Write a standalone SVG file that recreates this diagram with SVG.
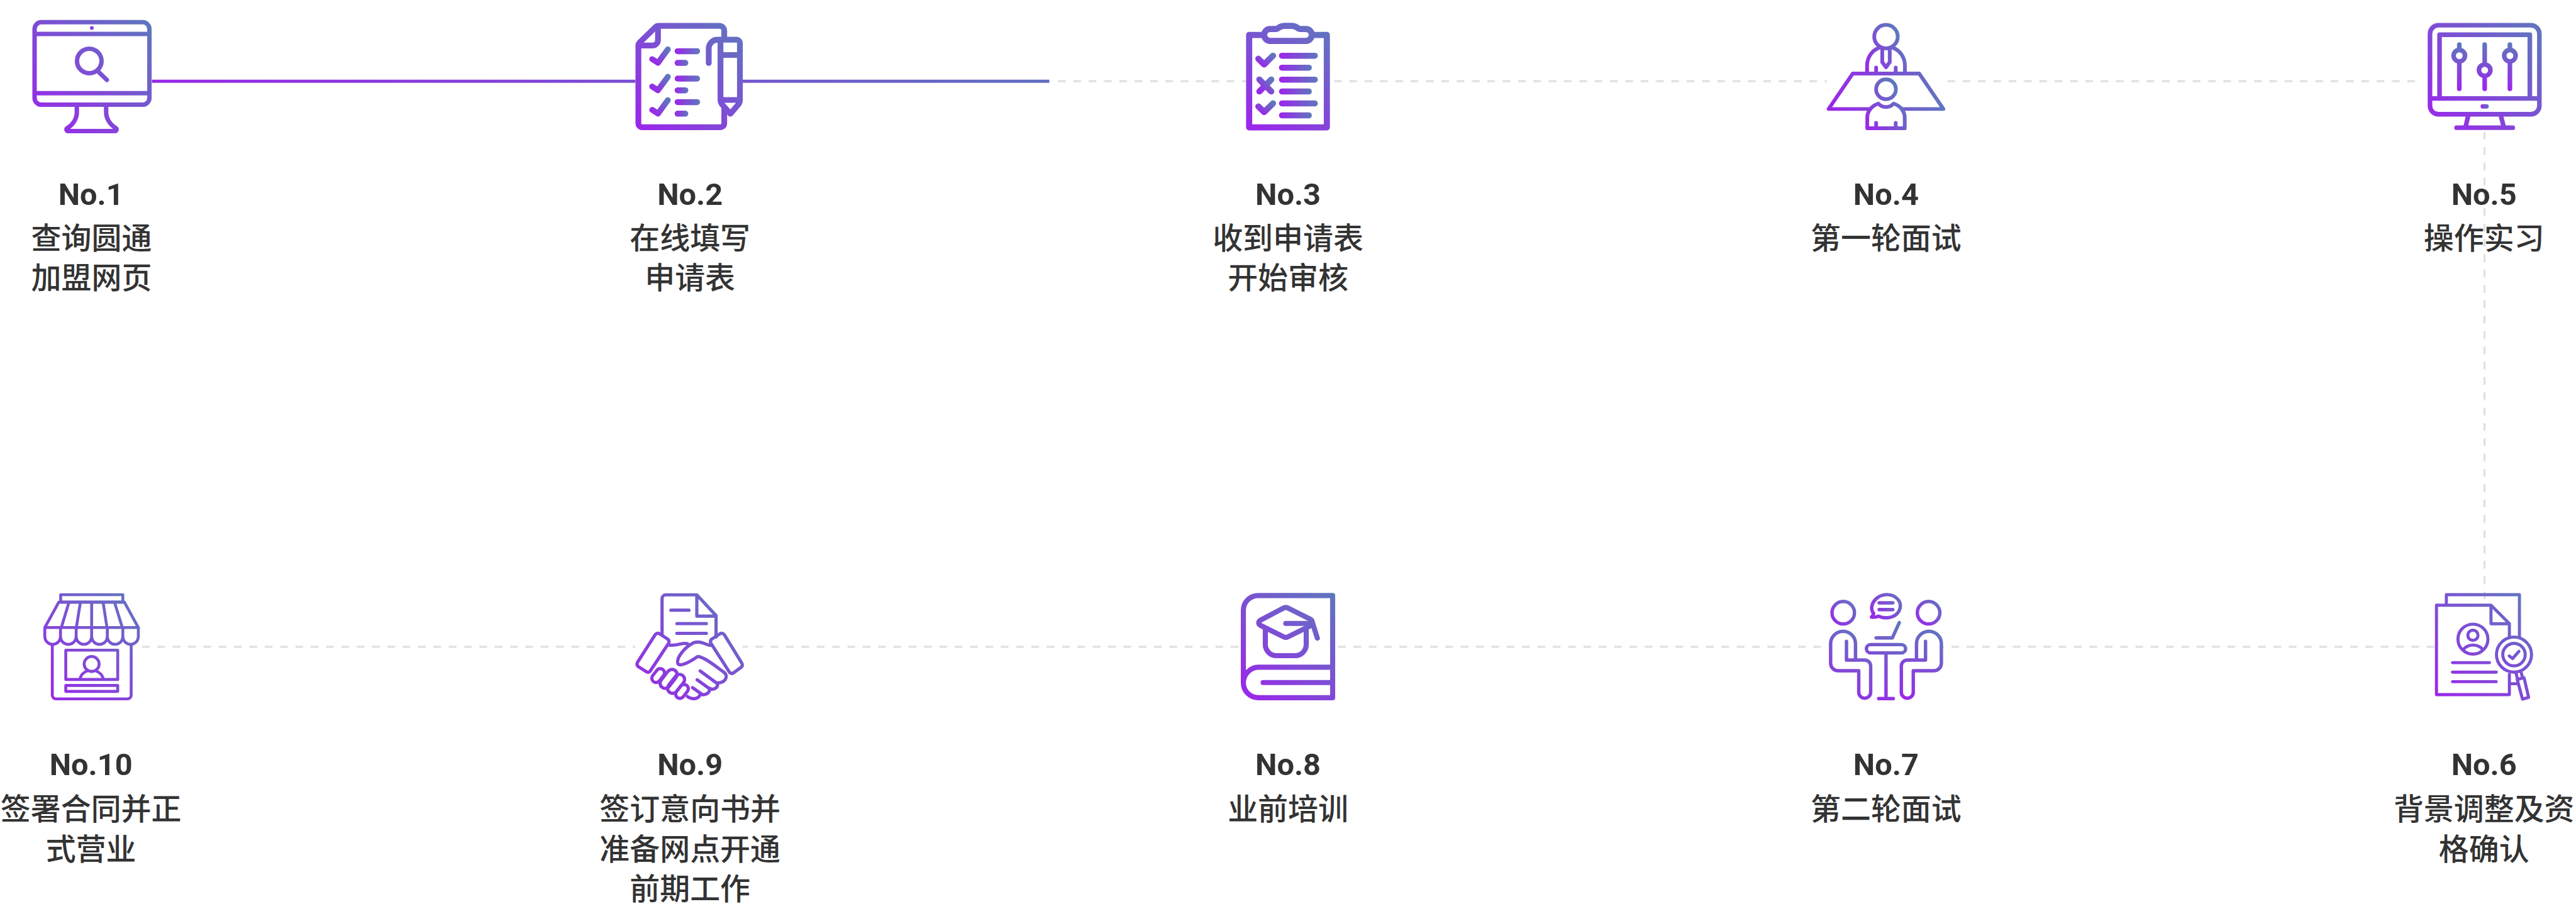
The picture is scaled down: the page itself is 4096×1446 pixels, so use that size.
<svg xmlns="http://www.w3.org/2000/svg" xmlns:xlink="http://www.w3.org/1999/xlink" width="4096" height="1446" viewBox="0 0 4096 1446">
<style>
.bg{fill:#fff}
.ic{fill:none;stroke-linecap:round;stroke-linejoin:round}
.wf{fill:#fff}
.dash{fill:none;stroke:#e0e0e0;stroke-width:4;stroke-dasharray:15 15}
.no{font-family:Roboto,"Liberation Sans",sans-serif;font-weight:700;font-size:60px;fill:#333;text-anchor:middle}
.tx{font-family:"Noto Sans CJK SC",sans-serif;font-weight:500;font-size:59px;fill:#333;text-anchor:middle}
.bar{fill:url(#gh)}
.chk{fill:none;stroke:url(#gd);stroke-linecap:round;stroke-linejoin:round}
</style>
<defs>
<linearGradient id="st"><stop offset="0" stop-color="#9d24ec"/><stop offset="1" stop-color="#5e78bd"/></linearGradient>
<linearGradient id="gh" xlink:href="#st" href="#st" x1="0" y1="0" x2="1" y2="0"/>
<linearGradient id="gd" xlink:href="#st" href="#st" x1="0" y1="1" x2="1" y2="0"/>
<linearGradient id="gline" gradientUnits="userSpaceOnUse" x1="297" y1="0" x2="2053" y2="0"><stop offset="0" stop-color="#9a28e8"/><stop offset="1" stop-color="#5f6fc0"/></linearGradient>
<linearGradient id="g1" xlink:href="#st" href="#st" gradientUnits="userSpaceOnUse" x1="190" y1="782" x2="890" y2="117"/>
<linearGradient id="g2" xlink:href="#st" href="#st" gradientUnits="userSpaceOnUse" x1="190" y1="764" x2="820" y2="135"/>
<linearGradient id="g3" xlink:href="#st" href="#st" gradientUnits="userSpaceOnUse" x1="265" y1="765" x2="755" y2="135"/>
<linearGradient id="g4" xlink:href="#st" href="#st" gradientUnits="userSpaceOnUse" x1="222" y1="650" x2="918" y2="640"/>
<linearGradient id="g4a" xlink:href="#st" href="#st" gradientUnits="userSpaceOnUse" x1="450" y1="430" x2="690" y2="280"/>
<linearGradient id="g4b" xlink:href="#st" href="#st" gradientUnits="userSpaceOnUse" x1="450" y1="764" x2="690" y2="600"/>
<linearGradient id="g5" xlink:href="#st" href="#st" gradientUnits="userSpaceOnUse" x1="300" y1="764" x2="968" y2="135"/>
<linearGradient id="g5s" xlink:href="#st" href="#st" gradientUnits="userSpaceOnUse" x1="0" y1="534" x2="0" y2="248"/>
<linearGradient id="g6" xlink:href="#st" href="#st" gradientUnits="userSpaceOnUse" x1="190" y1="750" x2="770" y2="122"/>
<linearGradient id="g7" xlink:href="#st" href="#st" gradientUnits="userSpaceOnUse" x1="300" y1="752" x2="600" y2="340"/>
<linearGradient id="g7b" xlink:href="#st" href="#st" gradientUnits="userSpaceOnUse" x1="357" y1="278" x2="545" y2="123"/>
<linearGradient id="g7h" xlink:href="#st" href="#st" gradientUnits="userSpaceOnUse" x1="123" y1="315" x2="275" y2="162"/>
<linearGradient id="g7r" xlink:href="#st" href="#st" gradientUnits="userSpaceOnUse" x1="625" y1="315" x2="777" y2="162"/>
<linearGradient id="g7v" xlink:href="#st" href="#st" gradientUnits="userSpaceOnUse" x1="540" y1="752" x2="785" y2="340"/>
<linearGradient id="g7l" xlink:href="#st" href="#st" gradientUnits="userSpaceOnUse" x1="115" y1="752" x2="370" y2="340"/>
<linearGradient id="g8" xlink:href="#st" href="#st" gradientUnits="userSpaceOnUse" x1="143" y1="752" x2="697" y2="122"/>
<linearGradient id="g9" xlink:href="#st" href="#st" gradientUnits="userSpaceOnUse" x1="130" y1="750" x2="765" y2="122"/>
<linearGradient id="g10" xlink:href="#st" href="#st" gradientUnits="userSpaceOnUse" x1="135" y1="752" x2="700" y2="122"/>
</defs>
<g transform="scale(0.8127)">
<g id="connectors">
<path d="M297 159H2053" fill="none" stroke="url(#gline)" stroke-width="6"/>
<path class="dash" d="M2070 159H4725"/>
<path class="dash" d="M4861 258V1173"/>
<path class="dash" d="M4763 1266H262"/>
</g>

<g id="node1">
<rect class="bg" x="60" y="30" width="237" height="240"/>
<g transform="scale(.33333)">
<g class="ic" stroke="url(#g1)" stroke-width="26">
<path d="M243 130H837a40 40 0 0 1 40 40V575a40 40 0 0 1-40 40H243a40 40 0 0 1-40-40V170a40 40 0 0 1 40-40ZM203 199H877M203 547H877"/>
<circle cx="524" cy="358" r="72"/>
<path d="M578 422L627 469"/>
<path d="M451 615V660C451 700 425 735 395 752C386 758 390 770 402 770H672C685 770 688 758 680 752C650 735 623 700 623 660V615"/>
</g>
<circle cx="539" cy="164" r="11" fill="#8a3fd8"/>
</g>
<text class="no" x="178" y="401">No.1</text>
<text class="tx" x="179" y="487">查询圆通</text>
<text class="tx" x="179" y="565">加盟网页</text>
</g>

<g id="node2">
<rect class="bg" x="1243" y="30" width="210" height="240"/>
<g transform="translate(1180 0) scale(.33333)">
<g class="ic" stroke="url(#g2)" stroke-width="34">
<path d="M711 225V180a28 28 0 0 0-28-28H325q-10 0-17 7L214 250q-7 7-7 17V725a22 22 0 0 0 22 22H689a22 22 0 0 0 22-22V630"/>
<path d="M322 155V235a32 32 0 0 1-32 32H215"/>
<path d="M620 370V285a52 52 0 0 1 52-52H783a20 20 0 0 1 20 20V590q0 12-8 22L747 668L697 612q-8-10-8-22V233M689 323H803M689 587H803"/>
</g>
<g stroke-width="34">
<path class="chk" d="M288 347L322 369L380 290"/>
<path class="chk" d="M288 508L322 530L380 451"/>
<path class="chk" d="M288 645L322 667L380 588"/>
</g>
<rect class="bar" x="420" y="283" width="149" height="35" rx="17.500"/>
<rect class="bar" x="420" y="352" width="80" height="35" rx="17.500"/>
<rect class="bar" x="420" y="444" width="149" height="35" rx="17.500"/>
<rect class="bar" x="420" y="513" width="80" height="35" rx="17.500"/>
<rect class="bar" x="420" y="582" width="149" height="35" rx="17.500"/>
<rect class="bar" x="420" y="650" width="80" height="35" rx="17.500"/>
</g>
<text class="no" x="1350" y="401">No.2</text>
<text class="tx" x="1350" y="487">在线填写</text>
<text class="tx" x="1350" y="565">申请表</text>
</g>

<g id="node3">
<rect class="bg" x="2438" y="30" width="172" height="240"/>
<g transform="translate(2350 0) scale(.33333)">
<g class="ic" stroke="url(#g3)" stroke-width="36">
<path d="M365 205H282V748H738V205H655"/>
<path d="M405 240a35 35 0 0 1 0-70H440q8 0 15-7q15-11 35-11H530q20 0 35 11q7 7 15 7H615a35 35 0 0 1 0 70Z"/>
</g>
<g stroke-width="36">
<path class="chk" d="M336 345L370 378L422 327"/>
<path class="chk" d="M342 467L412 537M412 467L342 537"/>
<path class="chk" d="M336 625L370 658L422 607"/>
</g>
<rect class="bar" x="457" y="310" width="228" height="35" rx="17.500"/>
<rect class="bar" x="457" y="380" width="193" height="35" rx="17.500"/>
<rect class="bar" x="457" y="450" width="228" height="35" rx="17.500"/>
<rect class="bar" x="457" y="520" width="193" height="35" rx="17.500"/>
<rect class="bar" x="457" y="590" width="228" height="35" rx="17.500"/>
<rect class="bar" x="457" y="660" width="193" height="35" rx="17.500"/>
</g>
<text class="no" x="2520" y="401">No.3</text>
<text class="tx" x="2520" y="487">收到申请表</text>
<text class="tx" x="2520" y="565">开始审核</text>
</g>

<g id="node4">
<rect class="bg" x="3574" y="30" width="236" height="240"/>
<g transform="translate(3500 0) scale(.33333)">
<g class="ic" stroke-width="22">
<circle cx="570" cy="215" r="69" stroke="url(#g4a)"/>
<path stroke="url(#g4a)" d="M459 430V385C459 335 490 295 530 280M681 430V385C681 335 650 295 610 280M548 285V365L570 395L592 365V285M512 397V430M627 397V430"/>
<path stroke="url(#g4)" d="M475 640H233L375 432H765L907 640H665"/>
<circle cx="570" cy="524" r="58" stroke="url(#g4b)"/>
<path stroke="url(#g4b)" d="M460 753V690C460 650 490 620 525 608C550 635 590 635 615 608C650 620 680 650 680 690V753ZM512 722V753M627 722V753"/>
</g>
</g>
<text class="no" x="3690" y="401">No.4</text>
<text class="tx" x="3690" y="487">第一轮面试</text>
</g>

<g id="node5">
<rect class="bg" x="4725" y="30" width="270" height="228"/>
<g transform="translate(4650 0) scale(.33333)">
<g class="ic" stroke="url(#g5)" stroke-width="27">
<path d="M363 148H905a50 50 0 0 1 50 50V621a50 50 0 0 1-50 50H363a50 50 0 0 1-50-50V198a50 50 0 0 1 50-50ZM313 578H955M369 578V204H899V578M537 680L521 750M729 680L747 750M469 750H799"/>
</g>
<rect x="610" y="612" width="48" height="26" rx="13" class="bar"/>
<g class="ic" stroke="url(#g5s)" stroke-width="27">
<path d="M485 262V521M634 262V521M782 262V521"/>
<circle class="wf" cx="485" cy="327" r="33.500"/>
<circle class="wf" cx="634" cy="412" r="33.500"/>
<circle class="wf" cx="782" cy="327" r="33.500"/>
</g>
</g>
<text class="no" x="4860" y="401">No.5</text>
<text class="tx" x="4860" y="487">操作实习</text>
</g>

<g id="node6">
<rect class="bg" x="4763" y="1173" width="200" height="230"/>
<g transform="translate(4700 1120) scale(.33333)">
<g class="ic" stroke="url(#g6)" stroke-width="18">
<path d="M259 192V132H688V385"/>
<path d="M629 385V302L521 194H201V719H629V600M521 194V303H629M629 655H680"/>
<circle cx="415" cy="393" r="88"/>
<circle cx="415" cy="370" r="30"/>
<path d="M360 452C390 420 440 420 472 452M295 531H512M295 587H552M295 643H552"/>
<circle cx="656" cy="484" r="103"/>
<circle cx="656" cy="484" r="66"/>
<path d="M628 492L648 507L685 465M668 592L676 625M698 588L706 618"/>
<path d="M675 630L715 620L742 735L706 745Z"/>
</g>
</g>
<text class="no" x="4860" y="1517">No.6</text>
<text class="tx" x="4860" y="1605">背景调整及资</text>
<text class="tx" x="4860" y="1683">格确认</text>
</g>

<g id="node7">
<rect class="bg" x="3578" y="1150" width="222" height="240"/>
<g transform="translate(3540 1120) scale(.33333)">
<g class="ic" stroke-width="20">
<circle cx="199" cy="238" r="66" stroke="url(#g7h)"/>
<circle cx="700" cy="238" r="66" stroke="url(#g7r)"/>
<path stroke="url(#g7l)" d="M271 510V420a73 73 0 0 0-146 0V534a45 45 0 0 0 45 45H290V705a35 35 0 0 0 70 0V551a35 35 0 0 0-35-35H218V406"/>
<path stroke="url(#g7v)" d="M629 510V420a73 73 0 0 1 146 0V534a45 45 0 0 1-45 45H610V705a35 35 0 0 1-70 0V551a35 35 0 0 1 35-35H682V406"/>
<rect x="335" y="425" width="230" height="49" rx="24.500" stroke="url(#g7)"/>
<path stroke="url(#g7)" d="M450 474V742M407 742H493M392 386H487L528 296"/>
<path stroke="url(#g7b)" d="M378 243C355 215 368 180 390 158C430 120 490 125 520 160C545 190 535 230 505 252C475 272 435 272 405 258C395 264 380 266 365 263C372 257 376 250 378 243ZM410 180H490M410 220H490"/>
</g>
</g>
<text class="no" x="3690" y="1517">No.7</text>
<text class="tx" x="3690" y="1605">第二轮面试</text>
</g>

<g id="node8">
<rect class="bg" x="2428" y="1150" width="185" height="240"/>
<g transform="translate(2380 1120) scale(.33333)">
<g class="ic" stroke="url(#g8)" stroke-width="30">
<path d="M682 137H245A87 87 0 0 0 158 224V650A87 87 0 0 0 245 737H682ZM682 558H245C200 558 158 600 158 650M274 648H682"/>
<path d="M395 210q12-6 24 0L550 276q18 9 10 35L419 380q-12 6-24 0L258 312q-20-14 0-30Z"/>
<path d="M287 335V425a65 65 0 0 0 65 65H462a65 65 0 0 0 65-65V335M407 301H565L592 387"/>
</g>
</g>
<text class="no" x="2520" y="1517">No.8</text>
<text class="tx" x="2520" y="1605">业前培训</text>
</g>

<g id="node9">
<rect class="bg" x="1243" y="1150" width="210" height="240"/>
<g transform="translate(1200 1120) scale(.33333)">
<g class="ic" stroke="url(#g9)" stroke-width="19">
<path d="M286 365V155a22 22 0 0 1 22-22H490L603 255V380M490 133V258H603M338 223H444M373 302H546M373 359H546"/>
<path d="M245 368q12-15 27-6L318 392q14 10 6 26L218 578q-9 14-24 7L148 555q-14-10-6-26Z"/>
<path d="M652 368q-12-15-27-6L579 392q-14 10-6 26L680 585q9 14 24 7L748 560q14-10 6-26Z"/>
<path d="M330 428C370 435 410 410 435 420M570 430C540 425 510 400 470 415C420 440 370 500 378 535C385 555 430 540 495 495C530 495 600 550 652 590C675 610 660 650 610 650C620 680 585 695 565 682C570 715 530 725 510 715C505 740 470 755 435 730"/>
<path d="M510 580L605 650M492 632L570 688M465 678L520 717"/>
<rect x="218" y="582" width="90" height="50" rx="25" transform="rotate(-52 263 607)"/>
<rect x="262" y="597" width="125" height="60" rx="30" transform="rotate(-52 324 627)"/>
<rect x="306" y="626" width="125" height="60" rx="30" transform="rotate(-52 368 656)"/>
<rect x="358" y="675" width="90" height="50" rx="25" transform="rotate(-52 403 700)"/>
</g>
</g>
<text class="no" x="1350" y="1517">No.9</text>
<text class="tx" x="1350" y="1605">签订意向书并</text>
<text class="tx" x="1350" y="1683">准备网点开通</text>
<text class="tx" x="1350" y="1761">前期工作</text>
</g>

<g id="node10">
<rect class="bg" x="60" y="1150" width="215" height="240"/>
<g transform="translate(40 1120) scale(.33333)">
<g class="ic" stroke="url(#g10)" stroke-width="17">
<path d="M236 132H601V176H236Z"/>
<path d="M225 176H610L692 325H143ZM285 176L240 325M352 176L328 325M418 176V325M485 176L508 325M552 176L598 325"/>
<path d="M143 325V378a46 46 0 0 0 92 0V325M235 378a46 46 0 0 0 92 0V325M327 378a45.500 45.500 0 0 0 91 0V325M418 378a46 46 0 0 0 92 0V325M510 378a45.500 45.500 0 0 0 91 0V325M601 378a45.500 45.500 0 0 0 91 0V325"/>
<path d="M187 425V722a22 22 0 0 0 22 22H628a22 22 0 0 0 22-22V425"/>
<path d="M266 458H571V630H266ZM266 665H571V700H266Z"/>
<circle cx="418" cy="539" r="44"/>
<path d="M349 628C355 600 375 585 395 578M487 628C480 600 460 585 440 578"/>
</g>
</g>
<text class="no" x="178" y="1517">No.10</text>
<text class="tx" x="178" y="1605">签署合同并正</text>
<text class="tx" x="178" y="1683">式营业</text>
</g>
</g>
</svg>
